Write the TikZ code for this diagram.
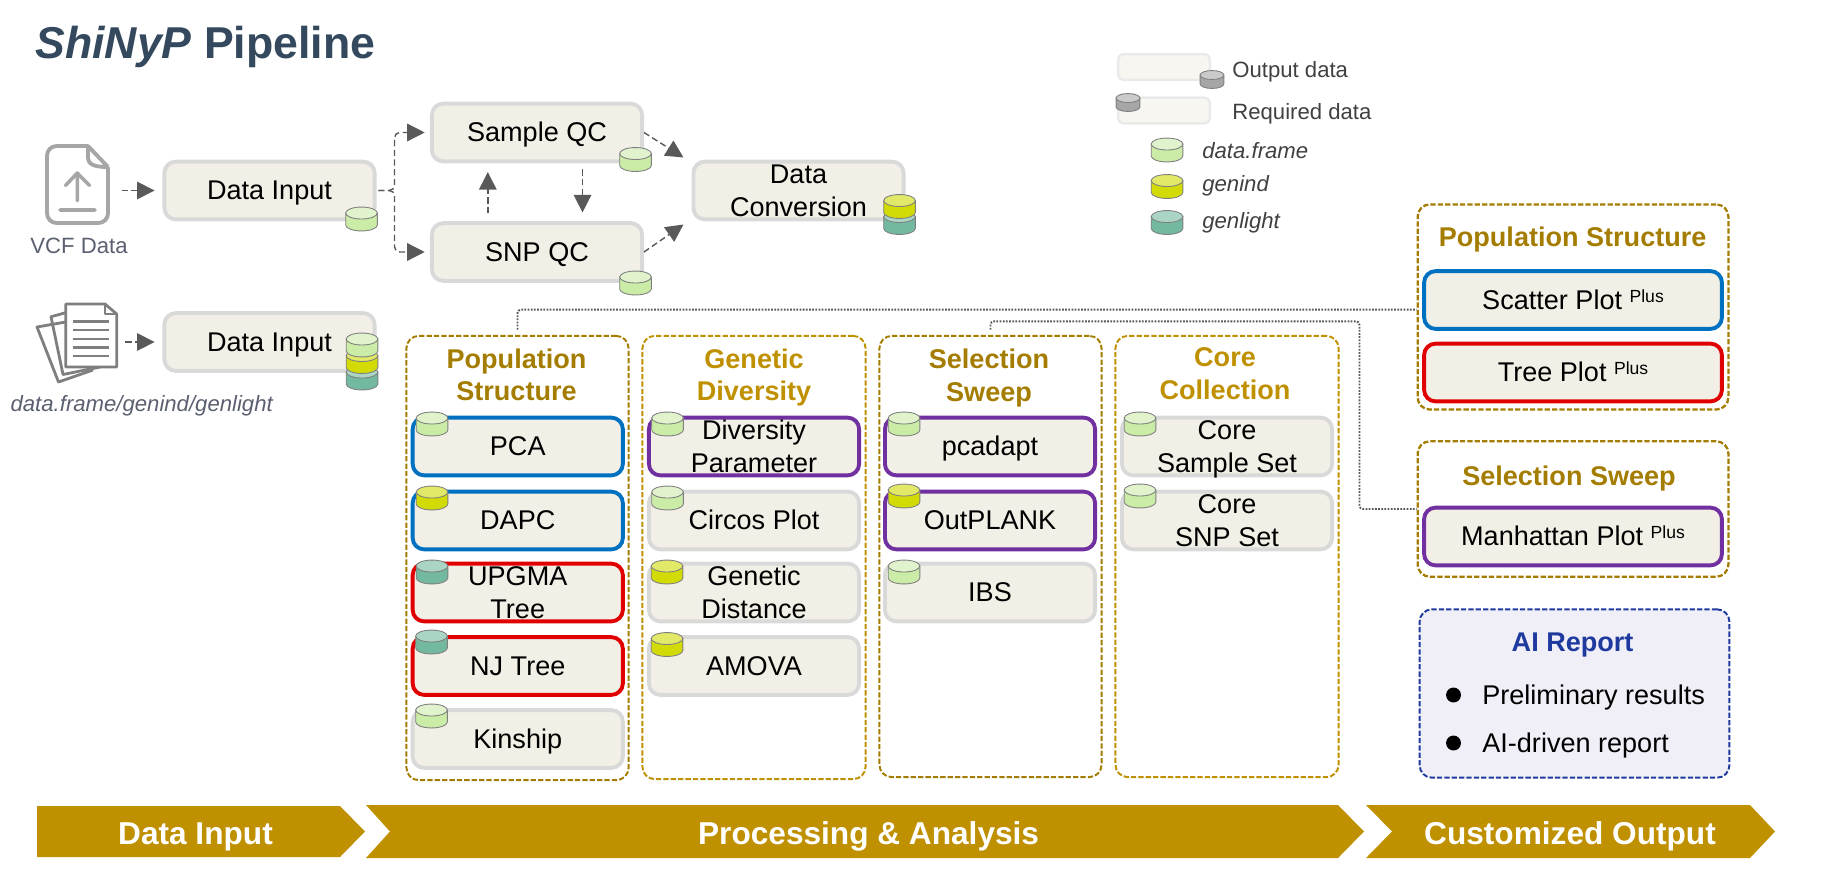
\documentclass[tikz,border=0pt]{standalone}
\usepackage{fontspec}
\setmainfont{Liberation Sans}
\usetikzlibrary{arrows.meta,calc}
\definecolor{titleblue}{HTML}{34495E}
\definecolor{boxfill}{HTML}{F2F0E6}
\definecolor{boxedge}{HTML}{D9D9D9}
\definecolor{darkgold}{HTML}{A37C00}
\definecolor{lightgold}{HTML}{BF9000}
\definecolor{flowgray}{HTML}{595959}
\definecolor{labelgray}{HTML}{5B6070}
\definecolor{legendgray}{HTML}{404040}
\definecolor{aiblue}{HTML}{1F3A9E}
\definecolor{dfbody}{HTML}{CBECA6}
\definecolor{dfend}{HTML}{E0F3CC}
\definecolor{gibody}{HTML}{D2DB06}
\definecolor{giend}{HTML}{E2E868}
\definecolor{glbody}{HTML}{72B9A0}
\definecolor{glend}{HTML}{AAD5C5}
\definecolor{greybody}{HTML}{A6A6A6}
\definecolor{greyend}{HTML}{CACACA}
\newcommand{\plusmark}{\raisebox{4.1pt}{\fontsize{10}{10}\selectfont Plus}}
\newcommand{\topstrut}{\rule{0pt}{14pt}}
\tikzset{
	boxstrut/.style = {execute at begin node={\rule{0pt}{13.8pt}}, execute at end node={\rule[-3.2pt]{0pt}{0pt}}},
	stepbox/.style = {rectangle, rounded corners=6.5pt, fill=boxfill, draw=boxedge, line width=2.2pt, minimum width=211*0.5669pt, minimum height=58*0.5669pt, inner xsep=0pt, inner ysep=-2pt, align=center, boxstrut, font=\fontsize{15.4}{18.7}\selectfont},
	bluebox/.style = {stepbox, draw={rgb,255:red,0;green,112;blue,192}},
	redbox/.style = {stepbox, draw={rgb,255:red,224;green,0;blue,0}},
	purplebox/.style = {stepbox, draw={rgb,255:red,112;green,48;blue,160}},
	panelbox/.style = {rectangle, rounded corners=7pt, draw=#1, line width=1.1pt, dash pattern=on 3pt off 1.2pt, inner sep=0pt},
	paneltitle/.style = {text=#1, align=center, inner sep=0pt, boxstrut, font=\fontsize{15.4}{18.7}\selectfont\bfseries},
	bodytext/.style = {anchor=west, inner sep=0pt, boxstrut, font=\fontsize{15.4}{18.7}\selectfont},
	pics/datacyl/.style 2 args = {code={
		\draw[draw=gray, line width=0.5pt, fill=#1] (-9pt,3.4pt) -- (-9pt,-3.4pt) arc[start angle=180, end angle=360, x radius=9pt, y radius=3.4pt] -- (9pt,3.4pt) -- cycle;
		\draw[draw=gray, line width=0.5pt, fill=#2] (0pt,3.4pt) ellipse [x radius=9pt, y radius=3.4pt];
	}},
	flowarrow/.style = {draw=flowgray, line width=0.8pt, dash pattern=on 3.5pt off 2pt, -{Triangle[length=10pt,width=10pt,fill=flowgray]}},
	dotlink/.style = {draw=flowgray, line width=1.1pt, dash pattern=on 1pt off 0.8pt, rounded corners=2pt},
	banner/.style = {fill=lightgold},
	bannertext/.style = {text=white, inner sep=0pt, font=\fontsize{18}{20}\selectfont\bfseries},
	smalltext/.style = {text=#1, inner sep=0pt, font=\fontsize{12.6}{15}\selectfont},
}
\begin{document}
\begin{tikzpicture}[x=0.02cm,y=-0.02cm]
	\path [use as bounding box] (0,0) rectangle (1841,889);
	\node (title) [anchor=base west, inner sep=0pt, text=titleblue, font=\fontsize{25.4}{28}\selectfont\bfseries] at (35,58) {\textit{ShiNyP} Pipeline};
	% input icons
	\node (vcficon) [minimum width=65*0.5669pt, minimum height=81*0.5669pt, inner sep=0pt] at (77.5,184.5) {};
	\draw[draw={rgb,255:red,166;green,166;blue,166}, line width=2.2pt, line join=round, rounded corners=5.5pt] (88,146) -- (47,146) -- (47,223) -- (108,223) -- (108,167);
	\draw[draw={rgb,255:red,166;green,166;blue,166}, line width=2.2pt, line join=round] (108,167) -- (88,146) -- (88,157) .. controls (88,164) and (93,167) .. (108,167);
	\draw[draw={rgb,255:red,166;green,166;blue,166}, line width=2pt, line cap=round, line join=round] (77.3,200.7) -- (77.3,173) (65.5,185.5) -- (77.3,173) -- (89.5,185.5) (60,210) -- (95,210);
	\node (vcflabel) [smalltext=labelgray] at (79,246) {VCF Data};
	\node (docicon) [minimum width=80*0.5669pt, minimum height=78*0.5669pt, inner sep=0pt] at (76.5,343) {};
	\begin{scope}[draw={rgb,255:red,127;green,127;blue,127}, line width=1.6pt, line join=round]
		\draw (65.7,322) -- (37,327) -- (58.5,382) -- (93,370);
		\draw (65.7,312.7) -- (51,316.7) -- (63,374.5) -- (100,367);
		\draw[fill=white] (65.7,304) -- (105,304) -- (116.7,314) -- (116.7,367) -- (65.7,367) -- cycle;
		\draw (105,304) -- (105,314) -- (116.7,314);
		\draw (73,321.7) -- (109,321.7) (73,330) -- (109,330) (73,339) -- (109,339) (73,347.7) -- (109,347.7) (73,356) -- (109,356);
	\end{scope}
	\node (doclabel) [smalltext=labelgray, font=\fontsize{12.6}{15}\selectfont\itshape] at (141.7,406) {data.frame/genind/genlight};
	% top row boxes
	\node (datainputa) [stepbox] at (269.5,190.5) {Data Input};
	\node (sampleqc) [stepbox] at (537,132.5) {Sample QC};
	\node (snpqc) [stepbox] at (537,252) {SNP QC};
	\node (dataconv) [stepbox] at (798.5,190.5) {\topstrut Data\\Conversion};
	\node (datainputb) [stepbox] at (269.5,342) {Data Input};
	\draw[flowarrow, shorten >=4.5pt, shorten <=6.5pt] (vcficon.east |- datainputa.west) -- (datainputa.west);
	\draw[flowarrow, shorten >=4.5pt, shorten <=5pt] (docicon.east |- datainputb.west) -- (datainputb.west);
	\draw[flowarrow, rounded corners=3pt, shorten >=3pt, shorten <=1pt] (datainputa.east) -- ++(18,0) |- (sampleqc.west);
	\draw[flowarrow, rounded corners=3pt, shorten >=3pt, shorten <=1pt] (datainputa.east) -- ++(18,0) |- (snpqc.west);
	\draw[flowarrow, shorten >=5pt, shorten <=3.5pt] ([xshift=25.9pt]sampleqc.south) -- ([xshift=25.9pt]snpqc.north);
	\draw[flowarrow, shorten >=5pt, shorten <=4.5pt] ([xshift=-28pt]snpqc.north) -- ([xshift=-28pt]sampleqc.south);
	\draw[flowarrow] (sampleqc.east) -- ([shift={(-8,-33)}]dataconv.west);
	\draw[flowarrow] (snpqc.east) -- ([shift={(-8,34)}]dataconv.west);
	% cylinders of the top row
	\pic at (361.5,219) {datacyl={dfbody}{dfend}};
	\pic at (635.5,159.5) {datacyl={dfbody}{dfend}};
	\pic at (635.5,283) {datacyl={dfbody}{dfend}};
	\pic at (899.5,222.5) {datacyl={glbody}{glend}};
	\pic at (899.5,206.5) {datacyl={gibody}{giend}};
	\pic at (362,378) {datacyl={glbody}{glend}};
	\pic at (362,361.5) {datacyl={gibody}{giend}};
	\pic at (362,345) {datacyl={dfbody}{dfend}};
	% legend
	\node (legendout) [rectangle, rounded corners=3pt, fill=boxfill!60, draw=boxedge!55, line width=1.4pt, minimum width=92*0.5669pt, minimum height=26*0.5669pt] at (1164,67) {};
	\node (legendreq) [rectangle, rounded corners=3pt, fill=boxfill!60, draw=boxedge!55, line width=1.4pt, minimum width=92*0.5669pt, minimum height=26*0.5669pt] at (1164,110.5) {};
	\pic[scale=0.75] at (1212,79.5) {datacyl={greybody}{greyend}};
	\pic[scale=0.75] at (1128,102.5) {datacyl={greybody}{greyend}};
	\node (legendtxta) [smalltext=legendgray, anchor=west] at (1232,71.4) {Output data};
	\node (legendtxtb) [smalltext=legendgray, anchor=west] at (1232,113.4) {Required data};
	\pic at (1167,150) {datacyl={dfbody}{dfend}};
	\pic at (1167,186.5) {datacyl={gibody}{giend}};
	\pic at (1167,222.5) {datacyl={glbody}{glend}};
	\node (legendtxtc) [smalltext=legendgray, anchor=west, font=\fontsize{12.6}{15}\selectfont\itshape] at (1202,151) {data.frame};
	\node (legendtxtd) [smalltext=legendgray, anchor=west, font=\fontsize{12.6}{15}\selectfont\itshape] at (1202,185.4) {genind};
	\node (legendtxte) [smalltext=legendgray, anchor=west, font=\fontsize{12.6}{15}\selectfont\itshape] at (1202,222.4) {genlight};
	% analysis panels
	\node (panelpop) [panelbox=darkgold, minimum width=223*0.5669pt, minimum height=446*0.5669pt] at (517.5,558) {};
	\node (panelgen) [panelbox=lightgold, minimum width=224*0.5669pt, minimum height=445*0.5669pt] at (754,557.5) {};
	\node (panelsel) [panelbox=darkgold, minimum width=223*0.5669pt, minimum height=443*0.5669pt] at (990.5,556.5) {};
	\node (panelcore) [panelbox=lightgold, minimum width=224*0.5669pt, minimum height=443*0.5669pt] at (1227,556.5) {};
	\node (titlepop) [paneltitle=darkgold] at (516.5,375) {\topstrut Population\\Structure};
	\node (titlegen) [paneltitle=lightgold] at (754,375) {\topstrut Genetic\\Diversity};
	\node (titlesel) [paneltitle=darkgold] at (989,375.5) {\topstrut Selection\\Sweep};
	\node (titlecore) [paneltitle=lightgold] at (1225,373.5) {\topstrut Core\\Collection};
	% population structure
	\node (pca) [bluebox] at (517.75,446.5) {PCA};
	\node (dapc) [bluebox] at (517.75,520.5) {DAPC};
	\node (upgma) [redbox] at (517.75,592.5) {\topstrut UPGMA\\Tree};
	\node (njtree) [redbox] at (517.75,666) {NJ Tree};
	\node (kinship) [stepbox] at (517.75,739) {Kinship};
	\pic at (432,424) {datacyl={dfbody}{dfend}};
	\pic at (432,498) {datacyl={gibody}{giend}};
	\pic at (432,572) {datacyl={glbody}{glend}};
	\pic at (431.5,642) {datacyl={glbody}{glend}};
	\pic at (431.5,716) {datacyl={dfbody}{dfend}};
	% genetic diversity
	\node (divpar) [purplebox] at (754,446.5) {\topstrut Diversity\\Parameter};
	\node (circos) [stepbox] at (754,520.5) {Circos Plot};
	\node (gendist) [stepbox] at (754,592.5) {\topstrut Genetic\\Distance};
	\node (amova) [stepbox] at (754,666) {AMOVA};
	\pic at (667.5,424) {datacyl={dfbody}{dfend}};
	\pic at (667.5,498) {datacyl={dfbody}{dfend}};
	\pic at (667,572) {datacyl={gibody}{giend}};
	\pic at (667,644.5) {datacyl={gibody}{giend}};
	% selection sweep
	\node (pcadapt) [purplebox] at (990,446.5) {pcadapt};
	\node (outplank) [purplebox] at (990,520.5) {OutPLANK};
	\node (ibs) [stepbox] at (990,592.5) {IBS};
	\pic at (904,424) {datacyl={dfbody}{dfend}};
	\pic at (904,496) {datacyl={gibody}{giend}};
	\pic at (904,572) {datacyl={dfbody}{dfend}};
	% core collection
	\node (coresam) [stepbox] at (1227,446.5) {\topstrut Core\\Sample Set};
	\node (coresnp) [stepbox] at (1227,520.5) {\topstrut Core\\SNP Set};
	\pic at (1140,424) {datacyl={dfbody}{dfend}};
	\pic at (1140,496) {datacyl={dfbody}{dfend}};
	% customized output
	\node (popright) [panelbox=darkgold, line width=1.3pt, minimum width=312*0.5669pt, minimum height=206*0.5669pt] at (1573,307) {};
	\node (titlepopr) [paneltitle=darkgold] at (1572.6,236.7) {Population Structure};
	\node (scatter) [bluebox, minimum width=299*0.5669pt] at (1573,300) {Scatter Plot \plusmark};
	\node (treeplot) [redbox, minimum width=299*0.5669pt] at (1573,372.5) {Tree Plot \plusmark};
	\node (sweepright) [panelbox=darkgold, line width=1.3pt, minimum width=312*0.5669pt, minimum height=136*0.5669pt] at (1573,509) {};
	\node (titleswr) [paneltitle=darkgold] at (1569,475.7) {Selection Sweep};
	\node (manhattan) [purplebox, minimum width=299*0.5669pt] at (1573,536.5) {Manhattan Plot \plusmark};
	\draw[dotlink, shorten <=3pt] (panelpop.north) |- ([yshift=-1.5pt]popright.west);
	\coordinate (sweepturn) at (1359.5,321.3);
	\draw[dotlink, shorten <=3pt] (panelsel.north) |- (sweepturn) |- (sweepright.west);
	% AI report
	\node (aibox) [panelbox=aiblue, fill={rgb,255:red,240;green,239;blue,247}, line width=1.1pt, minimum width=311*0.5669pt, minimum height=169*0.5669pt] at (1574.5,693.5) {};
	\node (aititle) [paneltitle=aiblue] at (1572.6,642) {AI Report};
	\node (bulleta) [circle, fill=black, inner sep=0pt, minimum size=15*0.5669pt] at (1453.5,695) {};
	\node (bulletb) [circle, fill=black, inner sep=0pt, minimum size=15*0.5669pt] at (1453.5,743) {};
	\node (aitexta) [bodytext] at (1482,695) {Preliminary results};
	\node (aitextb) [bodytext] at (1482,743) {AI-driven report};
	% stage banners
	\fill[banner] (37,806) -- (340,806) -- (365,831.5) -- (340,857) -- (37,857) -- cycle;
	\fill[banner] (366,805) -- (1338,805) -- (1364,831.5) -- (1338,858) -- (366,858) -- (390,831.5) -- cycle;
	\fill[banner] (1366,805) -- (1750,805) -- (1775,831.5) -- (1750,858) -- (1366,858) -- (1392,831.5) -- cycle;
	\node (bannera) [bannertext] at (195.5,836.5) {Data Input};
	\node (bannerb) [bannertext] at (868.6,836.5) {Processing \& Analysis};
	\node (bannerc) [bannertext] at (1570,836.5) {Customized Output};
\end{tikzpicture}
\end{document}
